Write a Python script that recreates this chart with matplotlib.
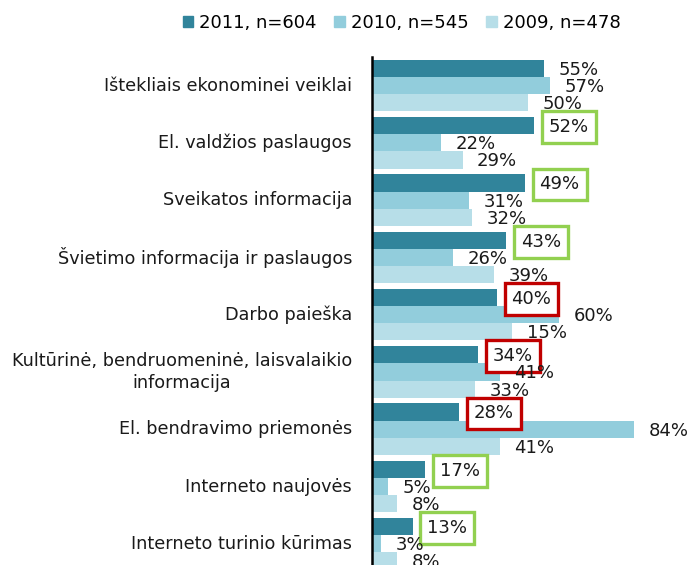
import numpy as np
import matplotlib.pyplot as plt
from matplotlib.patches import Patch

# --- DUOMENYS ---
kategorijos = [
    "Ištekliais ekonominei veiklai",
    "El. valdžios paslaugos",
    "Sveikatos informacija",
    "Švietimo informacija ir paslaugos",
    "Darbo paieška",
    "Kultūrinė, bendruomeninė, laisvalaikio\ninformacija",
    "El. bendravimo priemonės",
    "Interneto naujovės",
    "Interneto turinio kūrimas",
]
serijos = ["2011, n=604", "2010, n=545", "2009, n=478"]
reiksmes_2011 = [55, 52, 49, 43, 40, 34, 28, 17, 13]
reiksmes_2010 = [57, 22, 31, 26, 60, 41, 84, 5, 3]
# stulpelio ilgis (paveiksle) ir uzrasas ne visur sutampa
reiksmes_2009 = [50, 29, 32, 39, 45, 33, 41, 8, 8]
uzrasai_2009 = ["50%", "29%", "32%", "39%", "15%", "33%", "41%", "8%", "8%"]
remeliai_2011 = [None, "zalias", "zalias", "zalias", "raudonas", "raudonas",
                 "raudonas", "zalias", "zalias"]

spalvos = ["#31849B", "#92CDDC", "#B7DEE8"]
remelio_spalvos = {"zalias": "#92D050", "raudonas": "#C00000"}

# --- PAVEIKSLAS ---
fig = plt.figure(figsize=(6.91, 5.65), dpi=100)
ax = fig.add_axes([372 / 691, 0.0, 1 - 372 / 691, 1 - 57 / 565])

y = np.arange(len(kategorijos))
h = 0.3
visos = [reiksmes_2011, reiksmes_2010, reiksmes_2009]
uzrasai = [[f"{v}%" for v in reiksmes_2011],
           [f"{v}%" for v in reiksmes_2010],
           uzrasai_2009]

for k, (vals, sp) in enumerate(zip(visos, spalvos)):
    pos = y + (k - 1) * h
    ax.barh(pos, vals, height=h, color=sp, label=serijos[k])
    for i, (v, t) in enumerate(zip(vals, uzrasai[k])):
        bbox = None
        if k == 0 and remeliai_2011[i] is not None:
            bbox = dict(boxstyle="square,pad=0.38", fc="white",
                        ec=remelio_spalvos[remeliai_2011[i]], lw=2.4)
        ax.annotate(t, (v, pos[i]), xytext=(10.5, -1), textcoords="offset points",
                    ha="left", va="center", fontsize=13, color="#1a1a1a",
                    bbox=bbox, annotation_clip=False)

ax.set_xlim(0, 102.2)
ax.set_ylim(8.37, -0.5)
ax.set_xticks([])
ax.set_yticks([])
for s in ["top", "right", "bottom"]:
    ax.spines[s].set_visible(False)
ax.spines["left"].set_linewidth(1.8)
ax.spines["left"].set_color("black")

# kategoriju pavadinimai
for i, kat in enumerate(kategorijos):
    ax.text(-20 / 3.12, i, kat, ha="right", va="center", fontsize=12.7,
            multialignment="center", linespacing=1.3, color="#1a1a1a")

rankenos = [Patch(color=c) for c in spalvos]
fig.legend(rankenos, serijos, loc="center", bbox_to_anchor=(0.581, 1 - 23 / 565),
           ncol=3, frameon=False, fontsize=13, handlelength=0.6, handleheight=0.6,
           handletextpad=0.3, columnspacing=1.0)

plt.savefig("out.png", dpi=100)
